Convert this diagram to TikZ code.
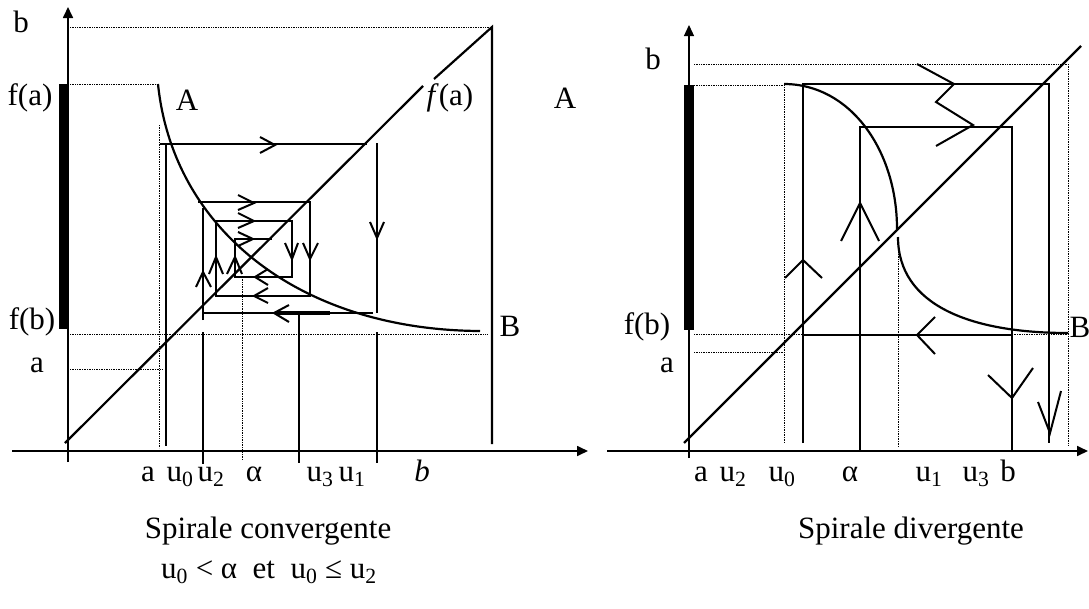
\documentclass[tikz,border=0pt]{standalone}
\usepackage{fontspec}
\setmainfont{Liberation Serif}
\usetikzlibrary{arrows.meta}

\begin{document}
\begin{tikzpicture}[x=1pt,y=-1pt,
  curve/.style={line width=2.2pt},
  axis/.style={line width=1.7pt,-{Triangle[length=11pt,width=10pt]}},
  guide/.style={densely dotted,line width=0.7pt},
  chev/.style={line width=2pt},
  lbl/.style={font=\fontsize{31}{36}\selectfont,inner sep=0pt}]
\useasboundingbox (0,0) rectangle (1089,608);
% convergent spiral: axes
\draw[axis] (12,451) -- (588,451);
\draw[axis] (68,462) -- (68,7);
\fill (59,84) rectangle (69,329);
% dotted guides
\draw[guide] (70,27) -- (492,27);
\draw[guide] (70,84) -- (158,84);
\draw[guide] (159,125) -- (159,448);
\draw[guide] (70,334) -- (487,334);
\draw[guide] (70,369) -- (163,369);
\draw[guide] (242,277) -- (242,460);
% diagonal and curve
\draw[curve] (65,443) -- (423,86) (434,79) -- (492,27) -- (492,444);
\draw[curve] (158,84) .. controls (173,230) and (300,330) .. (480,331);
% spiral path
\draw[curve] (160,144) -- (367,144);
\draw[curve] (377,143) -- (377,313);
\draw[curve] (373,313) -- (203,313);
\draw[line width=4pt] (277,313) -- (330,313);
\draw[curve] (203,320) -- (203,208);
\draw[curve] (198,202) -- (310,202) -- (310,296) -- (216,296) -- (216,221) -- (292,221)
  -- (292,277) -- (235,277) -- (235,239) -- (272,239);
\draw[curve] (166,144) -- (166,446);
\draw[curve] (203,332) -- (203,464);
\draw[curve] (299,313) -- (299,463);
\draw[curve] (377,332) -- (377,463);
% chevrons
\draw[chev] (260,137) -- (275,145) -- (260,153);
\draw[chev] (370,222) -- (377,238) -- (384,222);
\draw[chev] (289,305) -- (274,313) -- (289,322);
\draw[chev] (238,195) -- (254,203) -- (238,210);
\draw[chev] (238,213) -- (254,221) -- (238,228);
\draw[chev] (238,232) -- (253,239) -- (238,246);
\draw[chev] (285,243) -- (292,259) -- (298,243);
\draw[chev] (303,243) -- (310,259) -- (318,243);
\draw[chev] (268,288) -- (254,296) -- (268,303);
\draw[chev] (268,269) -- (255,277) -- (268,285);
\draw[chev] (196,287) -- (203,272) -- (211,287);
\draw[chev] (209,274) -- (216,257) -- (223,274);
\draw[chev] (227,274) -- (235,257) -- (242,274);
% labels
\node[lbl] (lb) at (21,22) {b};
\node[lbl] (lfa) at (30,98) {f(a)};
\node[lbl] (lfb) at (32,322) {f(b)};
\node[lbl] (la) at (37,365) {a};
\node[lbl] (lA) at (187,100) {A};
\node[lbl] (lfA) at (450,98) {\textit{f}(a)};
\node[lbl] (lAr) at (565,98) {A};
\node[lbl] (lB) at (510,326) {B};
\node[lbl,anchor=base] (ta) at (148,481) {a};
\node[lbl,anchor=base] (tu0) at (180,481) {u\textsubscript{0}};
\node[lbl,anchor=base] (tu2) at (211,481) {u\textsubscript{2}};
\node[lbl,anchor=base] (tal) at (254,481) {α};
\node[lbl,anchor=base] (tu3) at (320,481) {u\textsubscript{3}};
\node[lbl,anchor=base] (tu1) at (352,481) {u\textsubscript{1}};
\node[lbl,anchor=base] (tb) at (422,481) {\textit{b}};
\node[lbl,anchor=base] (capc) at (268,538) {Spirale convergente};
\node[lbl,anchor=base] (cond) at (269,578) {u\textsubscript{0} < α\ \ et\ \ u\textsubscript{0} ≤ u\textsubscript{2}};

% divergent spiral: axes
\draw[axis] (607,451) -- (1088,451);
\draw[axis,line width=1.2pt] (689,458) -- (689,25);
\fill (684,85) rectangle (694,330);
% dotted guides
\draw[guide] (694,64) -- (1068,64) -- (1068,445);
\draw[guide] (694,85) -- (784,85) -- (784,443);
\draw[guide] (694,334) -- (1068,334);
\draw[guide] (694,352) -- (785,352);
\draw[guide] (898,237) -- (898,447);
% diagonal and curve
\draw[curve] (684,443) -- (1081,46);
\draw[curve] (784,84) .. controls (850,84) and (897,150) .. (897,229);
\draw[curve] (898,237) .. controls (898,305) and (970,333) .. (1068,333);
% spiral path
\draw[curve] (803,443) -- (803,84) -- (1049,84) -- (1049,443);
\draw[curve] (860,451) -- (860,127) -- (1012,127) -- (1012,451);
\draw[curve] (803,335) -- (1012,335);
% chevrons
\draw[chev] (785,278) -- (803,260) -- (822,278);
\draw[chev] (841,241) -- (860,203) -- (879,241);
\draw[chev] (935,317) -- (917,335) -- (935,354);
\draw[chev] (988,375) -- (1012,398) -- (1033,368);
\draw[chev] (1038,402) -- (1050,433) -- (1061,391);
\draw[chev] (917,64) -- (954,84) -- (936,102) -- (973,125) -- (936,146);
% labels
\node[lbl] (rb) at (653,59) {b};
\node[lbl] (rfb) at (647,327) {f(b)};
\node[lbl] (ra) at (667,365) {a};
\node[lbl] (rB) at (1080,327) {B};
\node[lbl,anchor=base] (sa) at (701,481) {a};
\node[lbl,anchor=base] (su2) at (733,481) {u\textsubscript{2}};
\node[lbl,anchor=base] (su0) at (782,481) {u\textsubscript{0}};
\node[lbl,anchor=base] (sal) at (850,481) {α};
\node[lbl,anchor=base] (su1) at (929,481) {u\textsubscript{1}};
\node[lbl,anchor=base] (su3) at (976,481) {u\textsubscript{3}};
\node[lbl,anchor=base] (sb) at (1008,481) {b};
\node[lbl,anchor=base] (capd) at (911,538) {Spirale divergente};
\end{tikzpicture}
\end{document}
